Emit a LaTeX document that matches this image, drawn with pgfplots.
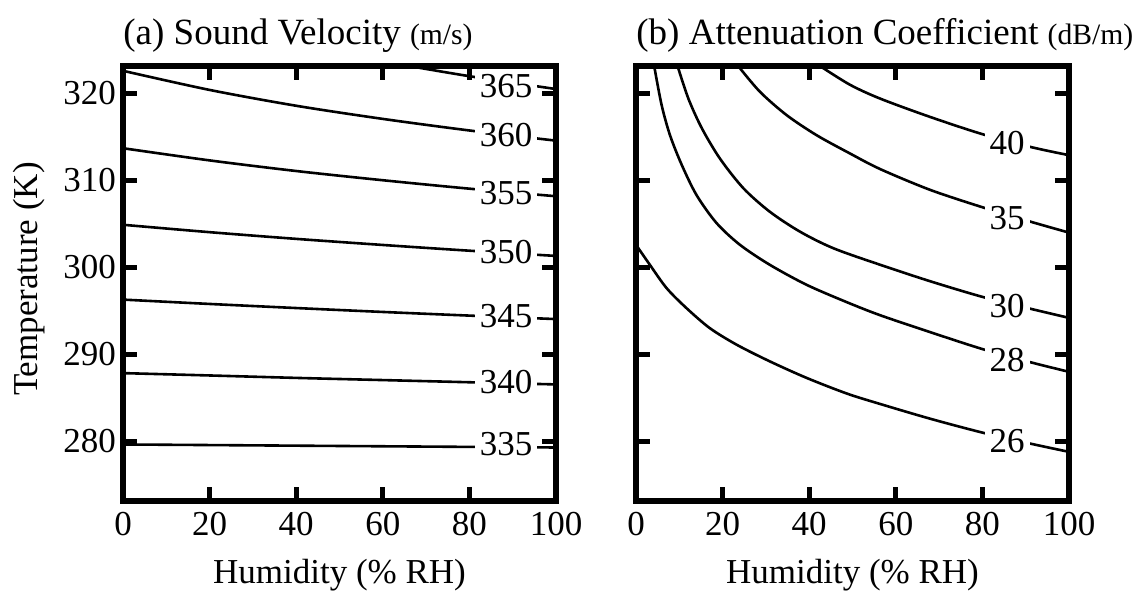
\documentclass[border=0pt]{standalone}
\usepackage{pgfplots}
\pgfplotsset{compat=1.18}
\usepackage{fontspec}
\setmainfont{Liberation Serif}

\newcommand{\bigfont}{\fontsize{17.5}{20}\selectfont}
\newcommand{\titlefont}{\fontsize{18.5}{21}\selectfont}
\newcommand{\smallfont}{\fontsize{14.8}{17}\selectfont}

\tikzset{lab/.style={fill=white, inner xsep=2.5pt, inner ysep=0.5pt, font=\bigfont}}

\pgfplotsset{
  panel/.style={
    scale only axis, width=216.5pt, height=217.5pt,
    xmin=0, xmax=100, ymin=273.15, ymax=323.15,
    xtick={0,20,...,100}, ytick={280,290,...,320},
    tick align=inside, major tick length=7pt,
    tick style={line width=2.6pt, black},
    axis line style={line width=3.2pt, black},
    axis on top,
    /pgf/number format/assume math mode=true,
    ticklabel style={font=\bigfont},
    xticklabel style={yshift=-2pt},
    every axis x label/.style={at={(axis description cs:0.5,-0.19)}, anchor=base,
      font=\bigfont},
    every axis title/.style={at={(axis description cs:0,1.05)}, anchor=base west,
      inner sep=0pt, font=\titlefont},
  },
  contour/.style={black, line width=1.3pt, smooth, mark=none},
}

\begin{document}
\begin{tikzpicture}
\useasboundingbox (0,0) rectangle (568.5pt,295.5pt);

% (a) sound velocity contours, m/s
\begin{axis}[panel, at={(61.5pt,45pt)}, anchor=south west,
  title={(a) Sound Velocity {\smallfont(m/s)}},
  xlabel={Humidity (\% RH)}, ylabel={Temperature (K)},
  every axis y label/.style={at={(axis description cs:-0.217,0.51)}, rotate=90,
    anchor=center, font=\bigfont}]
\addplot[contour] coordinates {(0,279.65) (20,279.58) (40,279.51) (60,279.44) (80,279.37) (100,279.30)};
\addplot[contour] coordinates {(0,287.85) (20,287.58) (40,287.30) (60,287.05) (80,286.80) (100,286.55)};
\addplot[contour] coordinates {(0,296.30) (20,295.80) (40,295.33) (60,294.88) (80,294.46) (100,294.06)};
\addplot[contour] coordinates {(0,304.90) (20,304.05) (40,303.28) (60,302.58) (80,301.92) (100,301.32)};
\addplot[contour] coordinates {(0,313.70) (20,312.30) (40,311.08) (60,310.02) (80,309.05) (100,308.18)};
\addplot[contour] coordinates {(0,322.60) (20,320.40) (40,318.58) (60,317.07) (80,315.74) (100,314.57)};
\addplot[contour] coordinates {(66.2,323.15) (70,322.81) (80,321.98) (90,321.23) (100,320.50)};
\node[lab] at (axis cs:88.5,279.75) {335};
\node[lab] at (axis cs:88.5,286.85) {340};
\node[lab] at (axis cs:88.5,294.35) {345};
\node[lab] at (axis cs:88.5,301.8) {350};
\node[lab] at (axis cs:88.5,308.5) {355};
\node[lab] at (axis cs:88.5,315.2) {360};
\node[lab] at (axis cs:88.5,320.8) {365};
\end{axis}

% (b) attenuation coefficient contours, dB/m
\begin{axis}[panel, at={(318pt,45pt)}, anchor=south west,
  title={(b) Attenuation Coefficient {\smallfont(dB/m)}},
  xlabel={Humidity (\% RH)}, yticklabels={}]
\addplot[contour] coordinates {(0,302.6) (3.2,300.3) (7.1,297.6) (11.7,295.3) (17.1,293.0) (23.3,291.1) (30.9,289.2) (39.4,287.3) (48.7,285.5) (56.4,284.3) (68,282.6) (80.1,281.0) (91.5,279.7) (100,278.8)};
\addplot[contour] coordinates {(4.2,323.15) (5.9,318.7) (7.85,315.2) (10.55,311.8) (14.0,308.3) (18.6,305.1) (24.0,302.6) (30.9,300.3) (39.4,298.0) (48.7,296.0) (56.4,294.5) (68,292.55) (80.1,290.6) (91.5,289.05) (100,288.0)};
\addplot[contour] coordinates {(9.6,323.15) (12.1,319.4) (15.2,316.0) (19.4,312.5) (24.8,309.1) (30.9,306.4) (37.9,304.1) (45.6,302.2) (56.4,300.3) (68,298.4) (80.1,296.6) (91.5,295.2) (100,294.2)};
\addplot[contour] coordinates {(23.6,323.15) (28.6,320.2) (34.8,317.5) (41.7,315.2) (49.4,313.1) (56.4,311.3) (68,308.9) (80.1,306.9) (91.5,305.2) (100,304.0)};
\addplot[contour] coordinates {(42.5,323.15) (49.4,321.0) (56.4,319.4) (67.9,317.3) (80.1,315.3) (91.5,313.8) (100,312.9)};
\node[lab] at (axis cs:85.7,280.0) {26};
\node[lab] at (axis cs:85.7,289.4) {28};
\node[lab] at (axis cs:85.7,295.6) {30};
\node[lab] at (axis cs:85.7,305.7) {35};
\node[lab] at (axis cs:85.7,314.3) {40};
\end{axis}
\end{tikzpicture}
\end{document}
